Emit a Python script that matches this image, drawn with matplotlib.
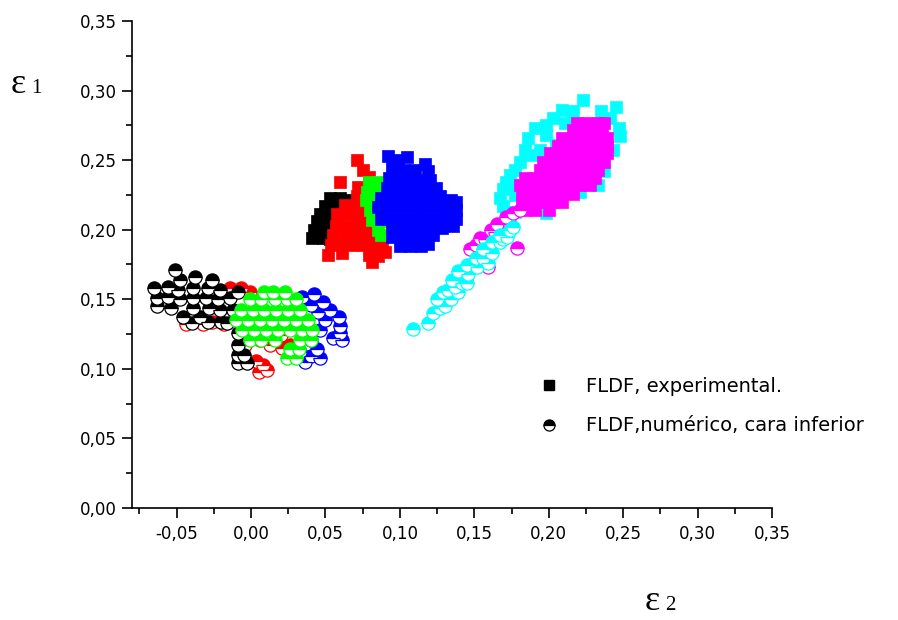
import matplotlib
matplotlib.use("Agg")
import matplotlib.pyplot as plt
from matplotlib.lines import Line2D
from matplotlib.ticker import MultipleLocator, FuncFormatter

# FLDF experimental (cuadrados) - (eps2, eps1)
exp_black = [(0.053, 0.223), (0.060, 0.223), (0.064, 0.221), (0.050, 0.217), (0.056, 0.217),
             (0.046, 0.211), (0.053, 0.211), (0.044, 0.206), (0.051, 0.206), (0.042, 0.200),
             (0.049, 0.200), (0.041, 0.194), (0.048, 0.194), (0.053, 0.193)]

exp_red = [(0.071, 0.250), (0.075, 0.243), (0.079, 0.238), (0.060, 0.234), (0.072, 0.231),
           (0.071, 0.224), (0.063, 0.218), (0.071, 0.216), (0.076, 0.214), (0.058, 0.211),
           (0.065, 0.211), (0.072, 0.209), (0.079, 0.207), (0.057, 0.203), (0.064, 0.203),
           (0.071, 0.203), (0.077, 0.201), (0.055, 0.196), (0.063, 0.196), (0.069, 0.196),
           (0.076, 0.196), (0.083, 0.196), (0.054, 0.189), (0.061, 0.189), (0.068, 0.189),
           (0.075, 0.189), (0.081, 0.189), (0.088, 0.189), (0.052, 0.182), (0.061, 0.183),
           (0.079, 0.182), (0.085, 0.181), (0.090, 0.184), (0.081, 0.177)]

exp_green = [(0.079, 0.234), (0.085, 0.234), (0.078, 0.227), (0.085, 0.227), (0.077, 0.221),
             (0.083, 0.220), (0.080, 0.214), (0.085, 0.213), (0.081, 0.207), (0.087, 0.206),
             (0.085, 0.200), (0.087, 0.196)]

exp_blue = [(0.092, 0.253), (0.105, 0.252), (0.099, 0.250), (0.117, 0.247),
            (0.095, 0.244), (0.103, 0.243), (0.110, 0.243), (0.119, 0.242),
            (0.093, 0.237), (0.100, 0.237), (0.107, 0.236), (0.114, 0.236), (0.120, 0.236),
            (0.091, 0.230), (0.097, 0.230), (0.104, 0.230), (0.111, 0.230), (0.118, 0.230),
            (0.124, 0.230),
            (0.087, 0.223), (0.093, 0.223), (0.100, 0.223), (0.107, 0.223), (0.114, 0.223),
            (0.120, 0.223), (0.127, 0.224), (0.134, 0.221), (0.138, 0.220),
            (0.085, 0.216), (0.092, 0.216), (0.099, 0.216), (0.106, 0.216), (0.112, 0.216),
            (0.119, 0.216), (0.126, 0.216), (0.132, 0.216), (0.138, 0.214),
            (0.087, 0.208), (0.093, 0.208), (0.100, 0.208), (0.107, 0.208), (0.114, 0.208),
            (0.120, 0.208), (0.127, 0.208), (0.134, 0.208), (0.138, 0.208),
            (0.095, 0.201), (0.102, 0.201), (0.108, 0.201), (0.115, 0.201), (0.122, 0.201),
            (0.128, 0.201), (0.136, 0.203),
            (0.095, 0.195), (0.100, 0.195), (0.108, 0.195), (0.115, 0.195), (0.122, 0.196),
            (0.100, 0.188), (0.107, 0.188), (0.114, 0.188), (0.119, 0.190)]

exp_cyan = [(0.223, 0.293), (0.245, 0.288), (0.209, 0.286), (0.216, 0.285), (0.203, 0.280),
            (0.241, 0.280), (0.247, 0.273), (0.248, 0.267), (0.198, 0.275), (0.191, 0.273),
            (0.198, 0.268), (0.186, 0.266), (0.243, 0.257), (0.184, 0.257), (0.188, 0.254),
            (0.181, 0.249), (0.177, 0.243), (0.174, 0.239), (0.171, 0.234), (0.169, 0.229),
            (0.167, 0.223), (0.169, 0.217), (0.171, 0.213), (0.177, 0.213), (0.198, 0.212),
            (0.237, 0.242), (0.221, 0.227), (0.233, 0.232), (0.228, 0.250), (0.235, 0.265),
            (0.211, 0.277), (0.205, 0.261), (0.194, 0.257), (0.175, 0.232), (0.177, 0.225),
            (0.186, 0.218), (0.228, 0.275), (0.235, 0.285)]

exp_magenta = [(0.219, 0.277), (0.226, 0.277), (0.233, 0.277), (0.237, 0.277),
               (0.216, 0.272), (0.222, 0.272), (0.229, 0.272), (0.236, 0.272),
               (0.209, 0.266), (0.216, 0.266), (0.222, 0.266), (0.229, 0.266), (0.236, 0.266),
               (0.239, 0.266),
               (0.206, 0.260), (0.213, 0.260), (0.220, 0.260), (0.226, 0.260), (0.233, 0.260),
               (0.239, 0.260),
               (0.201, 0.255), (0.208, 0.255), (0.214, 0.255), (0.221, 0.255), (0.228, 0.255),
               (0.235, 0.255), (0.239, 0.255),
               (0.196, 0.249), (0.203, 0.249), (0.210, 0.249), (0.216, 0.249), (0.223, 0.249),
               (0.230, 0.249), (0.237, 0.249),
               (0.194, 0.243), (0.201, 0.243), (0.208, 0.243), (0.214, 0.243), (0.221, 0.243),
               (0.228, 0.243), (0.233, 0.243),
               (0.184, 0.237), (0.191, 0.237), (0.198, 0.237), (0.204, 0.237), (0.211, 0.237),
               (0.218, 0.237), (0.224, 0.237), (0.231, 0.237),
               (0.181, 0.232), (0.187, 0.232), (0.194, 0.232), (0.201, 0.232), (0.208, 0.232),
               (0.214, 0.232), (0.221, 0.232), (0.228, 0.232),
               (0.182, 0.226), (0.189, 0.226), (0.196, 0.226), (0.202, 0.226), (0.209, 0.226),
               (0.216, 0.226),
               (0.182, 0.220), (0.189, 0.220), (0.196, 0.220), (0.202, 0.220), (0.209, 0.220),
               (0.184, 0.214), (0.191, 0.214), (0.200, 0.214)]

# FLDF numerico, cara inferior (circulos semi-llenos)
num_black = [(-0.051, 0.171), (-0.065, 0.158), (-0.063, 0.151), (-0.063, 0.145), (-0.056, 0.159),
             (-0.056, 0.152), (-0.054, 0.144), (-0.048, 0.164), (-0.049, 0.157), (-0.048, 0.150),
             (-0.046, 0.137), (-0.040, 0.133), (-0.038, 0.166), (-0.039, 0.158), (-0.039, 0.151),
             (-0.039, 0.144), (-0.034, 0.137), (-0.026, 0.164), (-0.029, 0.158), (-0.030, 0.151),
             (-0.028, 0.144), (-0.029, 0.134), (-0.021, 0.157), (-0.022, 0.150), (-0.021, 0.142),
             (-0.020, 0.134), (-0.014, 0.151), (-0.012, 0.142), (-0.016, 0.133), (-0.009, 0.155),
             (-0.009, 0.126), (-0.009, 0.117), (-0.009, 0.110), (-0.005, 0.110), (-0.009, 0.104),
             (-0.003, 0.104)]

num_red = [(-0.014, 0.158), (-0.007, 0.158), (-0.001, 0.155), (0.005, 0.151), (-0.044, 0.132),
           (-0.032, 0.132), (-0.026, 0.134), (-0.018, 0.132), (-0.004, 0.137), (-0.004, 0.117),
           (0.006, 0.121), (0.013, 0.117), (0.021, 0.115), (0.003, 0.106), (0.008, 0.103),
           (0.005, 0.098), (0.011, 0.099), (0.020, 0.124), (0.026, 0.117)]

num_green = [(0.009, 0.155), (0.015, 0.155), (0.023, 0.155),
             (-0.001, 0.150), (0.007, 0.150), (0.016, 0.150), (0.024, 0.150), (0.030, 0.150),
             (-0.007, 0.142), (0.001, 0.142), (0.009, 0.142), (0.017, 0.142), (0.025, 0.142),
             (0.033, 0.142),
             (-0.010, 0.135), (-0.002, 0.135), (0.006, 0.135), (0.014, 0.135), (0.022, 0.135),
             (0.030, 0.135), (0.038, 0.135),
             (-0.006, 0.128), (0.002, 0.128), (0.010, 0.128), (0.018, 0.128), (0.026, 0.128),
             (0.034, 0.128), (0.041, 0.128),
             (-0.001, 0.121), (0.007, 0.121), (0.016, 0.121), (0.033, 0.121), (0.040, 0.121),
             (0.026, 0.114), (0.032, 0.114), (0.024, 0.108), (0.030, 0.108)]

num_blue = [(0.034, 0.152), (0.042, 0.154), (0.048, 0.148), (0.040, 0.146), (0.053, 0.142),
            (0.059, 0.137), (0.050, 0.135), (0.045, 0.141), (0.060, 0.131), (0.046, 0.128),
            (0.060, 0.126), (0.055, 0.122), (0.061, 0.121), (0.040, 0.121), (0.044, 0.114),
            (0.033, 0.112), (0.040, 0.109), (0.046, 0.108), (0.036, 0.105)]

num_magenta = [(0.147, 0.186), (0.151, 0.189), (0.154, 0.194), (0.157, 0.193), (0.161, 0.200),
               (0.164, 0.198), (0.165, 0.204), (0.171, 0.209), (0.174, 0.204), (0.176, 0.212),
               (0.181, 0.214), (0.179, 0.187), (0.153, 0.175), (0.159, 0.173)]

num_cyan = [(0.109, 0.129), (0.119, 0.133), (0.122, 0.140), (0.127, 0.144), (0.125, 0.150),
            (0.134, 0.150), (0.130, 0.145), (0.129, 0.155), (0.132, 0.157), (0.139, 0.155),
            (0.137, 0.159), (0.135, 0.164), (0.142, 0.162), (0.145, 0.162), (0.139, 0.170),
            (0.146, 0.168), (0.145, 0.175), (0.152, 0.173), (0.151, 0.180), (0.156, 0.180),
            (0.159, 0.176), (0.156, 0.186), (0.162, 0.183), (0.162, 0.191), (0.167, 0.191),
            (0.169, 0.193), (0.167, 0.196), (0.172, 0.195), (0.174, 0.200), (0.176, 0.202)]

exp_series = [(exp_black, '#000000'), (exp_red, '#ff0000'), (exp_green, '#00ff00'),
              (exp_blue, '#0000ff'), (exp_cyan, '#00ffff'), (exp_magenta, '#ff00ff')]
num_series = [(num_red, '#ff0000'), (num_black, '#000000'), (num_blue, '#0000ff'),
              (num_green, '#00ff00'), (num_magenta, '#ff00ff'), (num_cyan, '#00ffff')]


def comma_fmt(v, pos):
    return f"{v:.2f}".replace('.', ',')


fig = plt.figure(figsize=(8.98, 6.20), dpi=100)
ax = fig.add_axes([132 / 898, 112 / 620, 640 / 898, 487 / 620])

for pts, col in exp_series:
    xs, ys = zip(*pts)
    ax.plot(xs, ys, ls='none', marker='s', ms=8.5, mfc=col, mec=col, mew=0.5)

for pts, col in num_series:
    xs, ys = zip(*pts)
    ax.plot(xs, ys, ls='none', marker='o', ms=9.5, fillstyle='top', mfc=col,
            markerfacecoloralt='white', mec=col, mew=0.9)

ax.set_xlim(-0.08, 0.35)
ax.set_ylim(0.0, 0.35)
ax.xaxis.set_major_locator(MultipleLocator(0.05))
ax.xaxis.set_minor_locator(MultipleLocator(0.025))
ax.yaxis.set_major_locator(MultipleLocator(0.05))
ax.yaxis.set_minor_locator(MultipleLocator(0.025))
ax.xaxis.set_major_formatter(FuncFormatter(comma_fmt))
ax.yaxis.set_major_formatter(FuncFormatter(comma_fmt))

for side in ['top', 'right']:
    ax.spines[side].set_visible(False)
for side in ['left', 'bottom']:
    ax.spines[side].set_linewidth(1.2)
ax.tick_params(which='major', direction='out', length=7, width=1.2, labelsize=12)
ax.tick_params(which='minor', direction='out', length=4, width=1.2)
ax.tick_params(axis='x', pad=5)
ax.tick_params(axis='y', pad=4)

# etiquetas de ejes tipo Origin
fig.text(11 / 898, 1 - 93 / 620, 'ε', fontsize=26, family='Liberation Serif', va='baseline')
fig.text(31 / 898, 1 - 93 / 620, '1', fontsize=15, family='Liberation Serif', va='baseline')
fig.text(645 / 898, 1 - 610 / 620, 'ε', fontsize=26, family='Liberation Serif', va='baseline')
fig.text(665 / 898, 1 - 610 / 620, '2', fontsize=15, family='Liberation Serif', va='baseline')

handles = [
    Line2D([], [], ls='none', marker='s', ms=7, mfc='k', mec='k'),
    Line2D([], [], ls='none', marker='o', ms=8, fillstyle='top', mfc='k',
           markerfacecoloralt='white', mec='k', mew=0.9),
]
ax.legend(handles, ['FLDF, experimental.', 'FLDF,numérico, cara inferior'],
          loc='upper left', bbox_to_anchor=(539 / 898, 1 - 377 / 620),
          bbox_transform=fig.transFigure, frameon=False, fontsize=14,
          handlelength=1.0, handletextpad=1.4, labelspacing=1.05,
          borderpad=0, borderaxespad=0)

fig.savefig('out.png', dpi=100)
